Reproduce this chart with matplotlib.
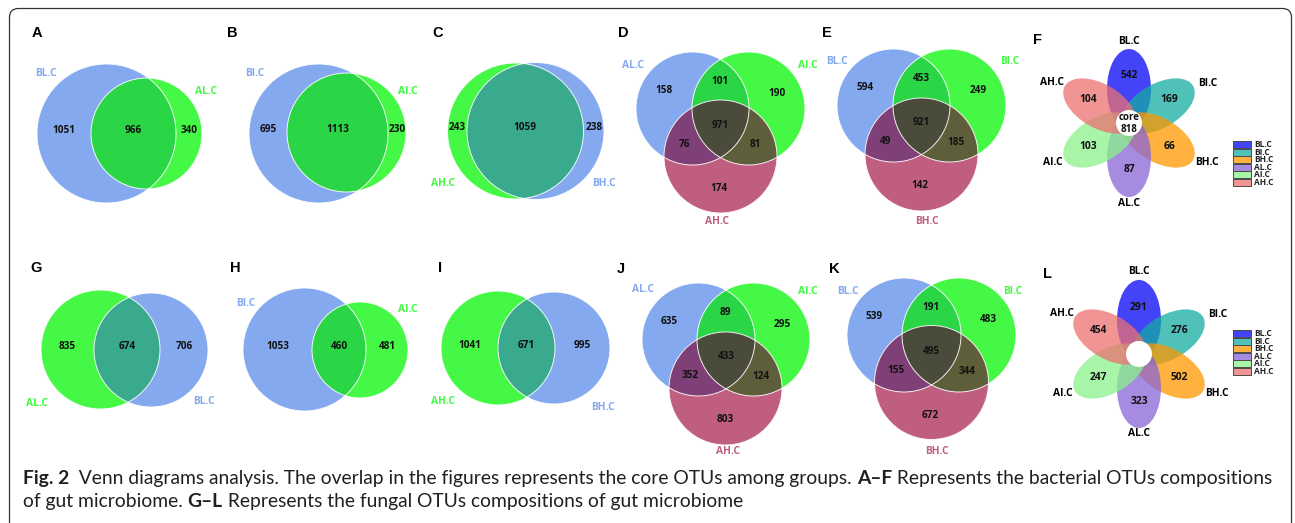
import numpy as np
import matplotlib
matplotlib.use("Agg")
import matplotlib.pyplot as plt
from matplotlib.patches import Circle, Ellipse, Polygon, Rectangle, FancyBboxPatch
from matplotlib import font_manager

W, H = 1295, 523


def has_bold(name):
    for f in font_manager.fontManager.ttflist:
        if f.name == name and (f.weight in ('bold', 'semibold') or
                               (isinstance(f.weight, int) and f.weight >= 600)):
            return True
    return False


installed = {f.name for f in font_manager.fontManager.ttflist}
LABEL_FONT = next((f for f in ['Open Sans', 'Lato', 'Liberation Sans'] if has_bold(f)), 'DejaVu Sans')
LETTER_FONT = 'Liberation Sans' if 'Liberation Sans' in installed else 'DejaVu Sans'
CAPTION_FONT = 'Lato' if 'Lato' in installed else 'DejaVu Sans'

# ---- OTU counts ----
# two-set panels: counts = [left only, shared, right only]
a_sets = ['BL.C', 'AL.C']; a_counts = [1051, 966, 340]
b_sets = ['BI.C', 'AI.C']; b_counts = [695, 1113, 230]
c_sets = ['AH.C', 'BH.C']; c_counts = [243, 1059, 238]
g_sets = ['AL.C', 'BL.C']; g_counts = [835, 674, 706]
h_sets = ['BI.C', 'AI.C']; h_counts = [1053, 460, 481]
i_sets = ['AH.C', 'BH.C']; i_counts = [1041, 671, 995]

# three-set panels: counts = [A only, A&B, B only, A&B&C, A&C, B&C, C only]
d_sets = ['AL.C', 'AI.C', 'AH.C']; d_counts = [158, 101, 190, 971, 76, 81, 174]
e_sets = ['BL.C', 'BI.C', 'BH.C']; e_counts = [594, 453, 249, 921, 49, 185, 142]
j_sets = ['AL.C', 'AI.C', 'AH.C']; j_counts = [635, 89, 295, 433, 352, 124, 803]
k_sets = ['BL.C', 'BI.C', 'BH.C']; k_counts = [539, 191, 483, 495, 155, 344, 672]

# flower panels: petals clockwise from the top
petal_sets = ['BL.C', 'BI.C', 'BH.C', 'AL.C', 'AI.C', 'AH.C']
f_petals = [542, 169, 66, 87, 103, 104]
f_core = 818
l_petals = [291, 276, 502, 323, 247, 454]
l_core = None

# ---- colours ----
BLUE, GREEN, PINK = '#84A9EF', '#45F845', '#C05E80'
BG_OVER, GB_OVER = '#2BD646', '#3AAA8E'
AC_OVER, BC_OVER, ABC_OVER = '#7F3F77', '#5E5E3A', '#4A4B3A'
PETAL_COLORS = ['#0404F6', '#14ACA2', '#FF9800', '#8864D6', '#8BF28B', '#EB7070']

# ---- layout (pixel units) ----
# circles are (cx, cy, r)
venn2_layout = {
    'A': dict(letter=(37, 33), circles=[(106.5, 133.5, 69.5), (146.5, 133.5, 55.5)],
              fills=[BLUE, GREEN, BG_OVER], labels=[(46, 73), (206, 92)]),
    'B': dict(letter=(232, 33), circles=[(318.5, 133.5, 69.5), (346.5, 132.5, 59.5)],
              fills=[BLUE, GREEN, BG_OVER], labels=[(255, 73), (408, 92)]),
    'C': dict(letter=(438, 33), circles=[(515.5, 131, 68), (535.5, 131, 68.5)],
              fills=[GREEN, BLUE, GB_OVER], labels=[(443, 183), (604, 183)]),
    'G': dict(letter=(36, 268), circles=[(100.5, 349.5, 59.5), (151, 350, 57)],
              fills=[GREEN, BLUE, GB_OVER], labels=[(37, 404), (204, 401)]),
    'H': dict(letter=(235, 268), circles=[(304.5, 349.5, 61.5), (360, 350, 48)],
              fills=[BLUE, GREEN, BG_OVER], labels=[(246, 303), (408, 310)]),
    'I': dict(letter=(440, 268), circles=[(498, 348, 57), (554, 348, 56)],
              fills=[GREEN, BLUE, GB_OVER], labels=[(443, 401), (603, 408)]),
}
venn3_layout = {
    'D': dict(letter=(623, 33), circles=[(692.5, 108.5, 56.5), (748.5, 108.5, 56.5), (720.5, 156.5, 56.5)],
              labels=[(633, 66), (808, 66), (717, 221)]),
    'E': dict(letter=(827, 33), circles=[(893.5, 105.5, 56.5), (949.5, 105.5, 56.5), (921.5, 154.5, 56.5)],
              labels=[(837, 61), (1010, 61), (927, 221)]),
    'J': dict(letter=(621, 269), circles=[(698.5, 339.5, 56.5), (753.5, 339.5, 56.5), (725.5, 388.5, 56.5)],
              labels=[(643, 289), (808, 292), (728, 452)]),
    'K': dict(letter=(834, 269), circles=[(904, 335, 57), (959, 335, 57), (931.5, 382.5, 57)],
              labels=[(848, 292), (1013, 292), (937, 452)]),
}
# count positions relative to the circles' centroid, in radii
venn3_offsets = [(-1.0, -0.6), (0.0, -0.76), (1.0, -0.55), (0.0, 0.02),
                 (-0.63, 0.35), (0.62, 0.36), (-0.02, 1.13)]
flower_layout = {
    'F': dict(letter=(1037, 40), center=(1129, 123), legend=(1233, 141)),
    'L': dict(letter=(1047, 274), center=(1139, 354), legend=(1233, 330)),
}
PETAL_ANGLES = [90, 30, -30, -90, 210, 150]
# petal name labels: (radius, angle) around the flower centre
PETAL_LABEL_POS = [(82, 90), (88, 27), (88, -27), (80, -90), (86, 207), (87, 152)]

fig = plt.figure(figsize=(W / 100, H / 100), dpi=100)
ax = fig.add_axes([0, 0, 1, 1])
ax.set_xlim(0, W)
ax.set_ylim(H, 0)
ax.axis('off')

num_kw = dict(fontsize=7.2, fontweight='bold', family=LABEL_FONT, color='#111111',
              ha='center', va='center', zorder=10)
lab_kw = dict(fontsize=7.4, fontweight='bold', family=LABEL_FONT, ha='center', va='center', zorder=10)


def panel_letter(xy, letter):
    ax.text(xy[0], xy[1], letter, fontsize=10.5, fontweight='bold', family=LETTER_FONT,
            ha='center', va='center', color='black')


def lens(c1, c2, n=720):
    t = np.linspace(0, 2 * np.pi, n, endpoint=False)
    pts = []
    for (x0, y0, r0), (x1, y1, r1) in [(c1, c2), (c2, c1)]:
        px, py = x0 + r0 * np.cos(t), y0 + r0 * np.sin(t)
        inside = (px - x1) ** 2 + (py - y1) ** 2 <= r1 ** 2
        pts.append(np.column_stack([px[inside], py[inside]]))
    pts = np.vstack(pts)
    c = pts.mean(axis=0)
    order = np.argsort(np.arctan2(pts[:, 1] - c[1], pts[:, 0] - c[0]))
    return pts[order]


def outline(c):
    ax.add_patch(Circle(c[:2], c[2], fc='none', ec='white', lw=0.7, alpha=0.9, zorder=5))


def venn2(letter, sets, counts):
    spec = venn2_layout[letter]
    l, r = spec['circles']
    fl, fr, fo = spec['fills']
    pl = ax.add_patch(Circle(l[:2], l[2], fc=fl, ec='none'))
    ax.add_patch(Circle(r[:2], r[2], fc=fr, ec='none'))
    ov = ax.add_patch(Circle(r[:2], r[2], fc=fo, ec='none'))
    ov.set_clip_path(pl)
    outline(l)
    outline(r)
    left_l, right_l = l[0] - l[2], l[0] + l[2]
    left_r, right_r = r[0] - r[2], r[0] + r[2]
    xs = [(left_l + left_r) / 2, (left_r + right_l) / 2, (right_l + right_r) / 2]
    y = (l[1] + r[1]) / 2 - 3
    for x, v in zip(xs, counts):
        ax.text(x, y, str(v), **num_kw)
    for (x, yy), name, col in zip(spec['labels'], sets, (fl, fr)):
        ax.text(x, yy, name, color=col, **lab_kw)
    panel_letter(spec['letter'], letter)


def venn3(letter, sets, counts):
    spec = venn3_layout[letter]
    A, B, C = spec['circles']
    pa = ax.add_patch(Circle(A[:2], A[2], fc=BLUE, ec='none'))
    pb = ax.add_patch(Circle(B[:2], B[2], fc=GREEN, ec='none'))
    pc = ax.add_patch(Circle(C[:2], C[2], fc=PINK, ec='none'))
    ab = lens(A, B)
    ax.add_patch(Polygon(ab, closed=True, fc=BG_OVER, ec='none'))
    ax.add_patch(Circle(C[:2], C[2], fc=AC_OVER, ec='none')).set_clip_path(pa)
    ax.add_patch(Circle(C[:2], C[2], fc=BC_OVER, ec='none')).set_clip_path(pb)
    ax.add_patch(Polygon(ab, closed=True, fc=ABC_OVER, ec='none')).set_clip_path(pc)
    for c in (A, B, C):
        outline(c)
    cx = np.mean([A[0], B[0], C[0]])
    cy = np.mean([A[1], B[1], C[1]])
    r = A[2]
    for (dx, dy), v in zip(venn3_offsets, counts):
        ax.text(cx + dx * r, cy + dy * r, str(v), **num_kw)
    for (x, y), name, col in zip(spec['labels'], sets, (BLUE, GREEN, PINK)):
        ax.text(x, y, name, color=col, **lab_kw)
    panel_letter(spec['letter'], letter)


def flower(letter, values, core):
    spec = flower_layout[letter]
    cx, cy = spec['center']
    semi_major, semi_minor, offset = 40, 22, 34
    for ang, col in zip(PETAL_ANGLES, PETAL_COLORS):
        th = np.deg2rad(ang)
        ex, ey = cx + offset * np.cos(th), cy - offset * np.sin(th)
        ax.add_patch(Ellipse((ex, ey), 2 * semi_major, 2 * semi_minor, angle=-ang,
                             fc=col, ec='none', alpha=0.75))
    ax.add_patch(Circle((cx, cy), 13, fc='white', ec='none', zorder=6))
    big = {**num_kw, 'fontsize': 7.4}
    if core is not None:
        ax.text(cx, cy - 6, 'core', **{**big, 'fontsize': 7})
        ax.text(cx, cy + 7, str(core), **{**big, 'fontsize': 7})
    for ang, v in zip(PETAL_ANGLES, values):
        th = np.deg2rad(ang)
        ax.text(cx + 47 * np.cos(th), cy - 47 * np.sin(th), str(v), **big)
    for (rl, al), name in zip(PETAL_LABEL_POS, petal_sets):
        tl = np.deg2rad(al)
        ax.text(cx + rl * np.cos(tl), cy - rl * np.sin(tl), name, color='black', **lab_kw)
    # legend: tightly stacked swatches
    lx, ly = spec['legend']
    for k, (name, col) in enumerate(zip(petal_sets, PETAL_COLORS)):
        y0 = ly + k * 7.5
        ax.add_patch(Rectangle((lx, y0), 18, 7, fc=col, alpha=0.75, ec='none'))
        ax.add_patch(Rectangle((lx, y0), 18, 7, fc='none', ec='#4a4a4a', lw=0.7))
        ax.text(lx + 21, y0 + 3.8, name, fontsize=6.0, fontweight='bold', family=LABEL_FONT,
                ha='left', va='center', color='#222222')
    panel_letter(spec['letter'], letter)


venn2('A', a_sets, a_counts)
venn2('B', b_sets, b_counts)
venn2('C', c_sets, c_counts)
venn3('D', d_sets, d_counts)
venn3('E', e_sets, e_counts)
flower('F', f_petals, f_core)
venn2('G', g_sets, g_counts)
venn2('H', h_sets, h_counts)
venn2('I', i_sets, i_counts)
venn3('J', j_sets, j_counts)
venn3('K', k_sets, k_counts)
flower('L', l_petals, l_core)

# frame around the figure (its lower edge runs just past the bottom)
ax.add_patch(FancyBboxPatch((9.5, 8.5), 1282, 524, boxstyle='round,pad=0,rounding_size=9',
                            fc='none', ec='#333333', lw=0.9, clip_on=True))

# caption, bold and regular runs chained along the baseline
cap_kw = dict(family=CAPTION_FONT, color='#231F20', fontsize=10)
line1 = [('Fig. 2', 'bold'),
         ('  Venn diagrams analysis. The overlap in the figures represents the core OTUs among groups. ', 'normal'),
         ('A–F', 'bold'), (' Represents the bacterial OTUs compositions', 'normal')]
line2 = [('of gut microbiome. ', 'normal'), ('G–L', 'bold'),
         (' Represents the fungal OTUs compositions of gut microbiome', 'normal')]
cap_texts = []
last1 = None
for segs, y in ((line1, 484), (line2, 507)):
    prev = None
    for s, w in segs:
        if prev is None:
            t = ax.text(23, y, s, fontweight=w, ha='left', va='baseline', **cap_kw)
        else:
            t = ax.annotate(s, xy=(1, 0), xycoords=prev, ha='left', va='bottom',
                            fontweight=w, **cap_kw)
        cap_texts.append(t)
        prev = t
    if last1 is None:
        last1 = prev

fig.canvas.draw()
bb = last1.get_window_extent()
scale = (1277 - 23) / (bb.x1 - 23)
for t in cap_texts:
    t.set_fontsize(10 * scale)

fig.savefig('out.png', dpi=100)
